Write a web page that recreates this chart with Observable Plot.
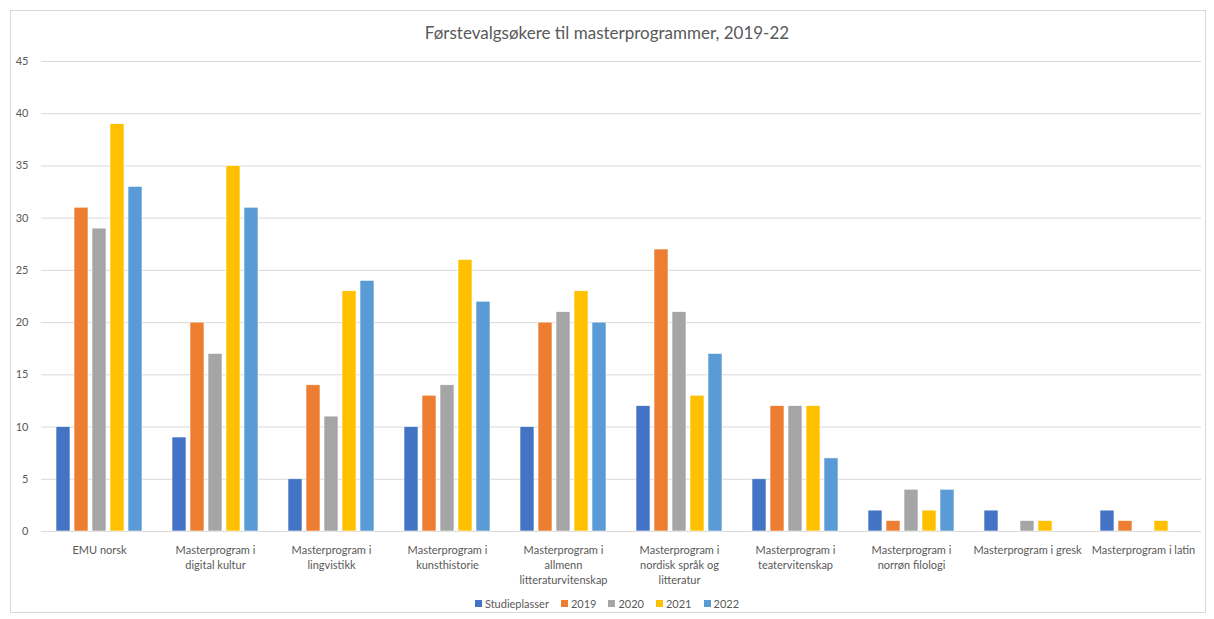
<!DOCTYPE html>
<html>
<head>
<meta charset="utf-8">
<script src="https://cdn.jsdelivr.net/npm/d3@7"></script>
<script src="https://cdn.jsdelivr.net/npm/@observablehq/plot@0.6"></script>
<style>
  html, body { margin: 0; padding: 0; background: #fff; }
  body { width: 1214px; height: 619px; position: relative; overflow: hidden; font-family: "Lato", "Liberation Sans", sans-serif; }
  #frame { position: absolute; left: 10px; top: 10px; width: 1196px; height: 603px; border: 1px solid #d9d9d9; box-sizing: border-box; }
  #title { position: absolute; left: 0; width: 1214px; top: 22px; text-align: center; font-size: 17px; color: #595959; }
  #chart { position: absolute; left: 0; top: 0; }
  #legend { position: absolute; left: 0; width: 1214px; top: 597px; display: flex; justify-content: center; gap: 12px; font-size: 11px; color: #595959; }
  #legend span.item { display: inline-flex; align-items: center; gap: 3px; }
  #legend span.sw { width: 7px; height: 7px; display: inline-block; }
</style>
</head>
<body>
<div id="frame"></div>
<div id="chart"></div>
<div id="title">Førstevalgsøkere til masterprogrammer, 2019-22</div>
<div id="legend"></div>
<script>
const categories = [
  "EMU norsk",
  "Masterprogram i digital kultur",
  "Masterprogram i lingvistikk",
  "Masterprogram i kunsthistorie",
  "Masterprogram i allmenn litteraturvitenskap",
  "Masterprogram i nordisk språk og litteratur",
  "Masterprogram i teatervitenskap",
  "Masterprogram i norrøn filologi",
  "Masterprogram i gresk",
  "Masterprogram i latin"
];
const tickLabels = [
  "EMU norsk",
  "Masterprogram i\ndigital kultur",
  "Masterprogram i\nlingvistikk",
  "Masterprogram i\nkunsthistorie",
  "Masterprogram i\nallmenn\nlitteraturvitenskap",
  "Masterprogram i\nnordisk språk og\nlitteratur",
  "Masterprogram i\nteatervitenskap",
  "Masterprogram i\nnorrøn filologi",
  "Masterprogram i gresk",
  "Masterprogram i latin"
];
const series = ["Studieplasser", "2019", "2020", "2021", "2022"];
const colors = ["#4472C4", "#ED7D31", "#A5A5A5", "#FFC000", "#5B9BD5"];

const studieplasser = [10, 9, 5, 10, 10, 12, 5, 2, 2, 2];
const v2019 = [31, 20, 14, 13, 20, 27, 12, 1, null, 1];
const v2020 = [29, 17, 11, 14, 21, 21, 12, 4, 1, null];
const v2021 = [39, 35, 23, 26, 23, 13, 12, 2, 1, 1];
const v2022 = [33, 31, 24, 22, 20, 17, 7, 4, null, null];
const yTicks = [0, 5, 10, 15, 20, 25, 30, 35, 40, 45];

const seriesValues = [studieplasser, v2019, v2020, v2021, v2022];
const rows = [];
categories.forEach((c, i) => {
  series.forEach((s, j) => {
    const v = seriesValues[j][i];
    if (v != null) rows.push({category: c, series: s, value: v});
  });
});

const chart = Plot.plot({
  width: 1214,
  height: 600,
  marginLeft: 40,
  marginRight: 12,
  marginTop: 61,
  marginBottom: 69,
  style: {fontFamily: "Lato, 'Liberation Sans', sans-serif", fontSize: "11px", background: "transparent"},
  fx: {domain: categories, padding: 0, label: null},
  x: {domain: series, paddingInner: 0.22, paddingOuter: 0.83, axis: null},
  y: {domain: [0, 45], label: null},
  color: {domain: series, range: colors},
  marks: [
    Plot.gridY(yTicks, {stroke: "#d9d9d9", strokeOpacity: 1, strokeWidth: 1}),
    Plot.axisY(yTicks, {tickSize: 0, tickPadding: 13, fill: "#595959", fontSize: 11, label: null}),
    Plot.axisFx({anchor: "bottom", tickSize: 0, tickPadding: 12, lineHeight: 1.35, fill: "#595959", fontSize: 11, label: null,
      tickFormat: d => tickLabels[categories.indexOf(d)]}),
    Plot.barY(rows, {fx: "category", x: "series", y: "value", fill: "series", stroke: "white", strokeWidth: 0.6})
  ]
});
document.getElementById("chart").appendChild(chart);

const legend = document.getElementById("legend");
series.forEach((s, j) => {
  const item = document.createElement("span");
  item.className = "item";
  const sw = document.createElement("span");
  sw.className = "sw";
  sw.style.background = colors[j];
  item.appendChild(sw);
  item.appendChild(document.createTextNode(s));
  legend.appendChild(item);
});
</script>
</body>
</html>
